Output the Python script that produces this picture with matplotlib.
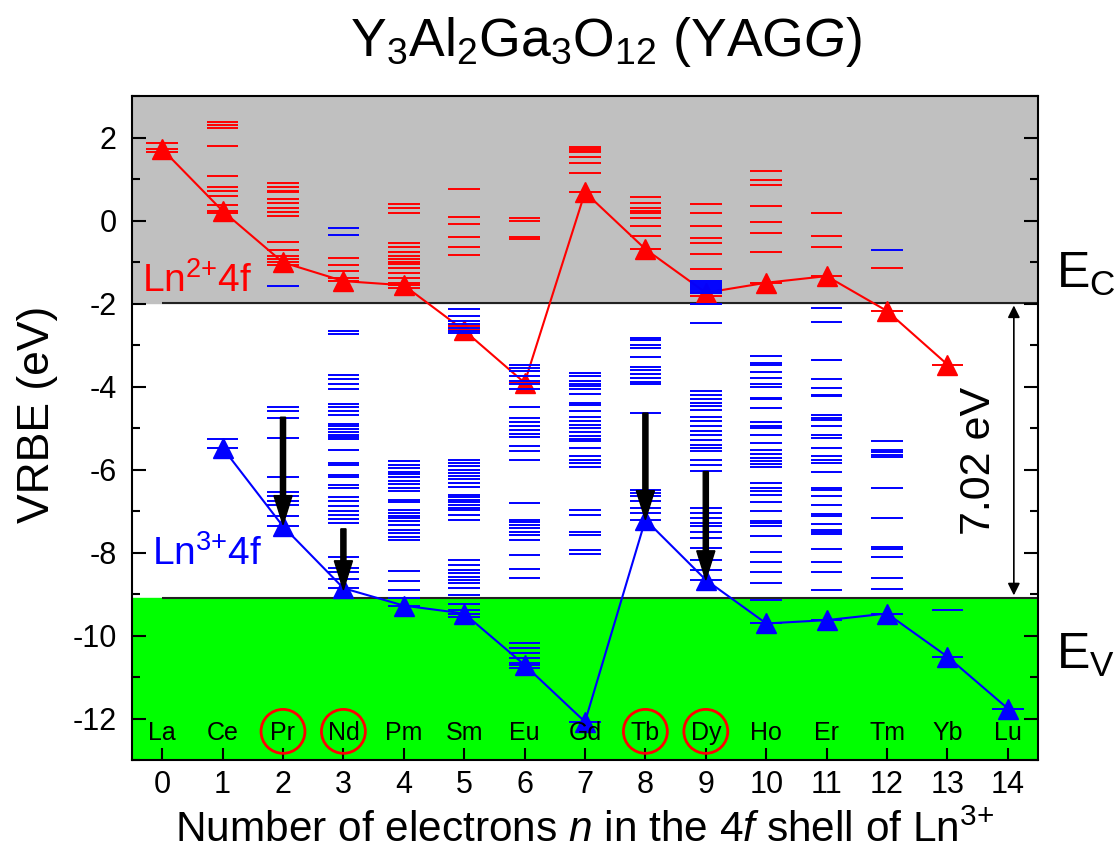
import matplotlib
matplotlib.use("Agg")
import matplotlib.pyplot as plt
from matplotlib.ticker import MultipleLocator

plt.rcParams['font.family'] = ['Liberation Sans', 'DejaVu Sans']
plt.rcParams['mathtext.fontset'] = 'custom'
plt.rcParams['mathtext.rm'] = 'Liberation Sans'
plt.rcParams['mathtext.it'] = 'Liberation Sans:italic'
plt.rcParams['axes.unicode_minus'] = False

# ---- data ----
elements = ['La', 'Ce', 'Pr', 'Nd', 'Pm', 'Sm', 'Eu', 'Gd', 'Tb', 'Dy', 'Ho', 'Er', 'Tm', 'Yb', 'Lu']
n_el = list(range(15))
circled = [2, 3, 8, 9]

EC = -1.98
EV = -9.1
gap_label = '7.02 eV'

# Ln2+ ground states (n = 0..13)
n_ln2 = list(range(14))
ln2_ground = [1.72, 0.23, -1.01, -1.46, -1.56, -2.65, -3.91, 0.68, -0.69, -1.74, -1.5, -1.34, -2.18, -3.47]
# Ln3+ ground states (n = 1..14)
n_ln3 = list(range(1, 15))
ln3_ground = [-5.48, -7.37, -8.86, -9.28, -9.47, -10.71, -12.08, -7.21, -8.66, -9.71, -9.63, -9.47, -10.51, -11.76]

# excited levels, Ln2+ (red)
red_levels = [
    [1.86, 1.66],
    [2.38, 2.29, 2.24, 1.8, 1.08, 0.8, 0.7, 0.6, 0.37, 0.18],
    [0.9, 0.8, 0.72, 0.68, 0.52, 0.42, 0.31, 0.21, 0.11, -0.51, -0.71, -0.85, -0.93, -1.08],
    [-0.91, -1.08, -1.21, -1.38],
    [0.4, 0.31, 0.19, -0.55, -0.65, -0.77, -0.85, -0.93, -1.01, -1.06, -1.14, -1.26, -1.38, -1.5, -1.62],
    [0.76, 0.09, -0.09, -0.39, -0.65, -0.83, -2.55],
    [0.05, 0.0, -0.4, -0.45],
    [1.76, 1.72, 1.68, 1.64, 1.52, 1.38, 1.14],
    [0.56, 0.42, 0.31, 0.23, 0.18, 0.07, -0.13, -0.37],
    [0.4, 0.18, -0.14, -0.43, -0.55, -0.81, -1.16, -1.82],
    [1.2, 0.98, 0.86, 0.34, -0.03, -0.31, -0.77],
    [0.18, -0.37, -0.65],
    [-1.15],
    [],
]

# excited levels, Ln3+ (blue), n = 0..14
blue_levels = [
    [],
    [-5.26],
    [-1.58, -4.5, -4.6, -4.75, -5.24, -6.17, -6.55, -6.63, -6.77, -6.85, -7.13],
    [-0.19, -0.35, -2.66, -2.74, -3.73, -3.83, -3.94, -4.05, -4.43, -4.5, -4.58, -4.68, -4.9, -4.96,
     -5.02, -5.1, -5.16, -5.22, -5.26, -5.52, -5.85, -5.88, -6.13, -6.19, -6.38, -6.45, -6.67, -6.77,
     -6.87, -6.99, -7.09, -7.19, -7.29, -8.12, -8.38, -8.48, -8.64],
    [-5.8, -5.88, -5.97, -6.05, -6.11, -6.19, -6.27, -6.35, -6.45, -6.53, -6.73, -6.79, -6.97, -7.05,
     -7.11, -7.17, -7.25, -7.33, -7.45, -7.54, -7.62, -7.7, -8.44, -8.69, -8.9, -9.1],
    [-2.14, -2.3, -2.43, -2.5, -2.58, -2.66, -2.72, -5.76, -5.84, -5.92, -6.0, -6.08, -6.16, -6.24,
     -6.32, -6.43, -6.61, -6.67, -6.73, -6.79, -6.85, -6.92, -6.97, -7.09, -7.21, -8.18, -8.3, -8.42,
     -8.5, -8.58, -8.66, -8.74, -8.86, -9.02, -9.23, -9.39, -9.55],
    [-3.47, -3.55, -3.63, -3.75, -3.86, -3.95, -4.07, -4.5, -4.77, -4.86, -4.96, -5.06, -5.14, -5.22,
     -5.44, -5.56, -5.76, -6.81, -7.21, -7.27, -7.33, -7.42, -7.5, -7.59, -7.7, -8.07, -8.4, -8.62,
     -10.18, -10.29, -10.41, -10.54, -10.66, -10.78],
    [-3.67, -3.75, -3.86, -3.94, -3.99, -4.07, -4.19, -4.4, -4.45, -4.6, -4.74, -4.84, -4.93, -5.01,
     -5.1, -5.2, -5.26, -5.32, -5.48, -5.68, -5.76, -5.85, -5.93, -6.97, -7.09, -7.5, -7.58, -7.94, -8.04],
    [-2.83, -2.89, -2.99, -3.08, -3.29, -3.53, -3.61, -3.7, -3.79, -3.89, -3.95, -4.64, -6.49, -6.57,
     -6.65, -6.77, -6.92, -7.05],
    [-1.45, -1.5, -1.55, -1.6, -1.65, -1.7, -1.75, -2.02, -2.46, -4.11, -4.21, -4.31, -4.4, -4.48,
     -4.56, -4.74, -4.84, -4.96, -5.08, -5.18, -5.28, -5.4, -5.48, -5.55, -5.76, -5.88, -6.03, -6.93,
     -7.05, -7.17, -7.29, -7.37, -7.5, -7.66, -7.9, -8.18, -8.42],
    [-3.27, -3.43, -3.49, -3.65, -3.79, -3.95, -4.02, -4.27, -4.31, -4.53, -4.85, -4.96, -5.01, -5.17,
     -5.36, -5.54, -5.62, -5.72, -5.79, -5.87, -5.95, -6.33, -6.45, -6.53, -6.61, -6.78, -7.01, -7.23,
     -7.29, -7.37, -7.61, -7.98, -8.22, -8.46, -8.74, -9.15],
    [-2.12, -2.45, -3.35, -3.37, -3.81, -4.03, -4.2, -4.24, -4.68, -4.75, -4.8, -4.96, -5.16, -5.23,
     -5.48, -5.68, -5.76, -5.85, -6.05, -6.45, -6.49, -6.65, -6.85, -7.08, -7.13, -7.31, -7.45, -7.51,
     -7.56, -7.91, -8.24, -8.48, -8.9],
    [-0.72, -5.32, -5.52, -5.58, -5.64, -5.71, -6.45, -7.17, -7.86, -7.91, -8.12, -8.61, -8.89],
    [-9.39],
    [],
]

# black emission arrows: (n, from, to)
arrow_n = [2, 3, 8, 9]
arrow_start = [-4.74, -7.43, -4.64, -6.05]
arrow_end = [-7.33, -8.9, -7.21, -8.66]

# ---- plot ----
fig = plt.figure(figsize=(11.18, 8.6), dpi=100)
ax = fig.add_axes([132 / 1118, 1 - 760 / 860, 906 / 1118, 664 / 860])
ax.set_xlim(-0.5, 14.5)
ax.set_ylim(-13, 3)

ax.axhspan(EC, 3, color='#c0c0c0', zorder=0)
ax.axhspan(-13, EV, color='#00ff00', zorder=0)
ax.hlines([EC, EV], 0, 14.5, color='#222222', lw=1.5, zorder=1)

hw = 0.26
# Ln2+ series
for i, lv in enumerate(red_levels):
    ax.hlines(lv, i - hw, i + hw, color='red', lw=1.4, zorder=2)
ax.hlines(ln2_ground, [x - hw for x in n_ln2], [x + hw for x in n_ln2], color='red', lw=1.4, zorder=2)
ax.plot(n_ln2, ln2_ground, color='red', lw=1.5, marker='^', ms=15, zorder=3)

# Ln3+ series
for i, lv in enumerate(blue_levels):
    ax.hlines(lv, i - hw, i + hw, color='blue', lw=1.4, zorder=4)
ax.hlines(ln3_ground, [x - hw for x in n_ln3], [x + hw for x in n_ln3], color='blue', lw=1.4, zorder=4)
ax.plot(n_ln3, ln3_ground, color='blue', lw=1.5, marker='^', ms=15, zorder=5)

for x, y0, y1 in zip(arrow_n, arrow_start, arrow_end):
    ax.arrow(x, y0, 0, y1 - y0, width=0.085, head_width=0.3, head_length=0.7,
             length_includes_head=True, color='black', zorder=6)

# band gap arrow
ax.annotate('', xy=(14.1, EV), xytext=(14.1, EC),
            arrowprops=dict(arrowstyle='<|-|>', color='black', lw=1.2, mutation_scale=18), zorder=6)
ax.text(13.52, -5.8, gap_label, rotation=90, fontsize=31, ha='center', va='center', zorder=6)

# element labels
for x, name in zip(n_el, elements):
    ax.text(x, -12.52, name, fontsize=18, ha='center', va='baseline', zorder=7)
ax.scatter(circled, [-12.31] * len(circled), s=1000, facecolors='none', edgecolors='red',
           linewidths=2, zorder=7)

ax.text(-0.33, -1.72, r'Ln$^{\mathregular{2{+}}}$4f', color='red', fontsize=28, va='baseline', zorder=7)
ax.text(-0.17, -8.3, r'Ln$^{\mathregular{3{+}}}$4f', color='blue', fontsize=28, va='baseline', zorder=7)

ax.text(14.8, -1.63, r'E$_\mathregular{C}$', fontsize=36, va='baseline', clip_on=False)
ax.text(14.8, -10.8, r'E$_\mathregular{V}$', fontsize=36, va='baseline', clip_on=False)

ax.set_xticks(n_el)
ax.set_yticks(range(-12, 3, 2))
ax.yaxis.set_minor_locator(MultipleLocator(1))
ax.tick_params(axis='x', which='major', direction='in', length=9, width=1.5, labelsize=22, pad=7, top=False)
ax.tick_params(axis='y', which='major', direction='in', length=10, width=1.5, labelsize=22, pad=11, right=True)
ax.tick_params(axis='y', which='minor', direction='in', length=5.5, width=1.5, right=True)
for s in ax.spines.values():
    s.set_linewidth(1.5)

ax.set_xlabel(r'Number of electrons $\mathit{n}$ in the 4$\mathit{f}$ shell of Ln$^{\mathregular{3{+}}}$', fontsize=30.5)
ax.set_ylabel('VRBE (eV)', fontsize=32)
ax.xaxis.set_label_coords(0.5, -0.076)
ax.yaxis.set_label_coords(-0.082, 0.52)

fig.text(0.542, 1 - 56 / 860,
         r'Y$_\mathregular{3}$Al$_\mathregular{2}$Ga$_\mathregular{3}$O$_\mathregular{12}$ (YAG$\mathit{G}$)',
         fontsize=38.5, ha='center', va='baseline')

fig.savefig('out.png', dpi=100)
